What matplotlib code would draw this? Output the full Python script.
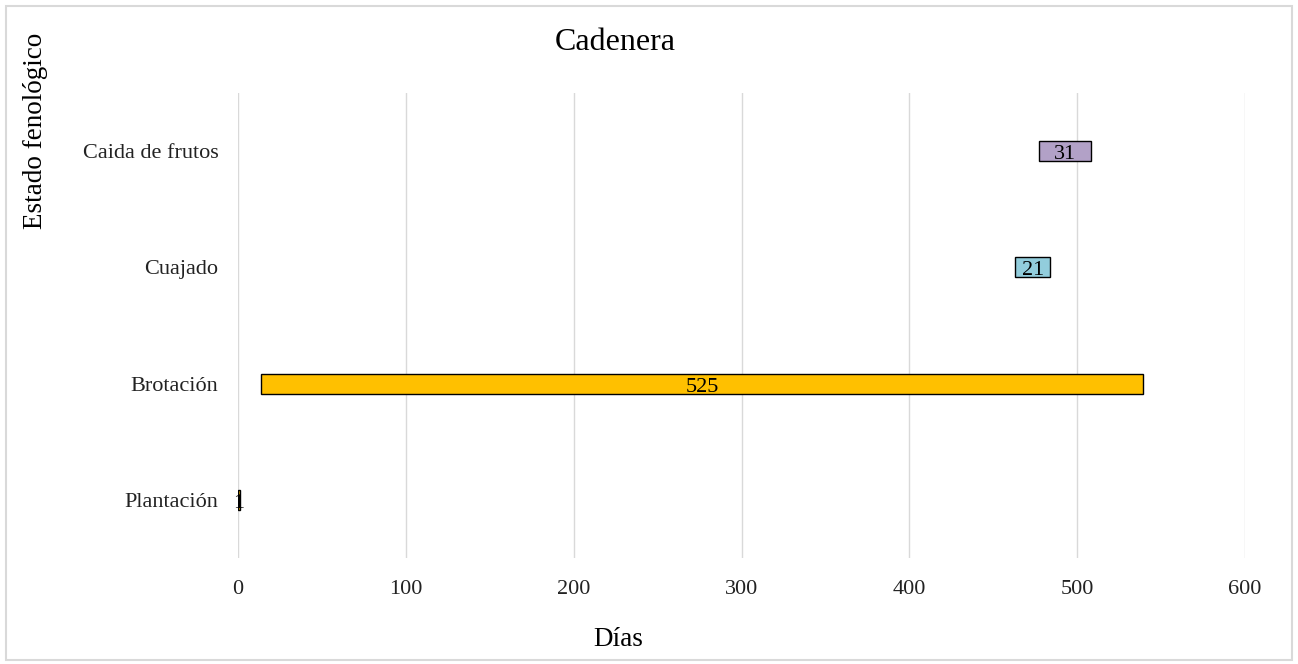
import matplotlib.pyplot as plt
from matplotlib.patches import Rectangle

# Phenological stages and their timing (days)
stages = ["Plantación", "Brotación", "Cuajado", "Caida de frutos"]
start_days = [0, 14, 463, 477]
durations = [1, 525, 21, 31]
colors = ["#FFC000", "#FFC000", "#92CDDC", "#B2A1C7"]

plt.rcParams["font.family"] = ["Liberation Serif", "DejaVu Serif"]

fig = plt.figure(figsize=(12.98, 6.64), dpi=100)
ax = fig.add_axes([238 / 1298, 1 - 558 / 664, (1245 - 238) / 1298, (558 - 93) / 664])

ypos = list(range(len(stages)))
ax.barh(ypos, durations, left=start_days, height=0.17, color=colors,
        edgecolor="black", linewidth=1.0, zorder=3)

for y, s, d in zip(ypos, start_days, durations):
    ax.text(s + d / 2, y - 0.03, str(d), ha="center", va="center",
            fontsize=16, color="black", zorder=4)

ax.set_xlim(0, 600)
ax.set_ylim(-0.5, len(stages) - 0.5)
ax.set_xticks(range(0, 601, 100))
ax.set_yticks(ypos)
ax.set_yticklabels(stages)
ax.tick_params(axis="both", length=0, labelsize=16, colors="#222222")
ax.tick_params(axis="x", pad=16)
ax.tick_params(axis="y", pad=14)
ax.grid(axis="x", color="#d9d9d9", linewidth=1.0, zorder=0)
for sp in ax.spines.values():
    sp.set_visible(False)

fig.text(615 / 1298, 1 - 42 / 664, "Cadenera", ha="center", va="center", fontsize=23)
fig.text(618 / 1298, 1 - 640 / 664, "Días", ha="center", va="center", fontsize=19.5)
fig.text(36 / 1298, 1 - 131 / 664, "Estado fenológico", ha="center", va="center",
         fontsize=19.5, rotation=90)

# Chart-area border
fig.patches.append(Rectangle((6 / 1298, 4 / 664), 1286 / 1298, 654 / 664,
                             transform=fig.transFigure, fill=False,
                             edgecolor="#d9d9d9", linewidth=1.5))

fig.savefig("out.png", dpi=100, facecolor="white")
